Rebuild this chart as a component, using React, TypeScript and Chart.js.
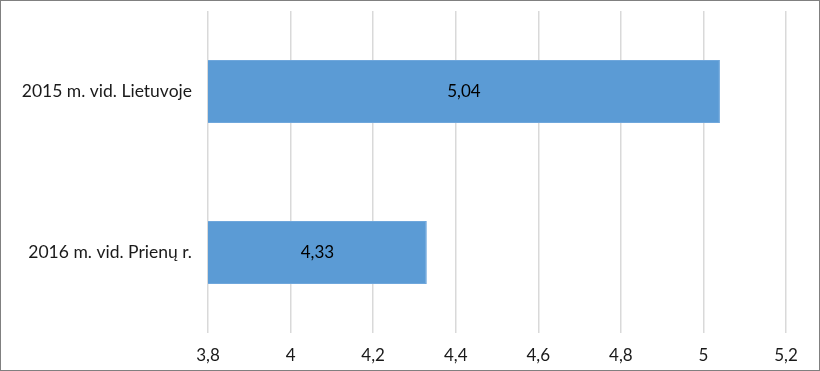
import React, { useEffect, useRef } from "react";
import { Chart, registerables } from "chart.js";

Chart.register(...registerables);

const categories = ["2015 m. vid. Lietuvoje", "2016 m. vid. Prienų r."];
const values = [5.04, 4.33];
const xMin = 3.8;
const xMax = 5.2;
const xStep = 0.2;

const FONT = "Lato, 'Open Sans', sans-serif";
const fmt = (v: number) => String(Math.round(v * 100) / 100).replace(".", ",");

const barLabels = {
  id: "barLabels",
  afterDraw(chart: any) {
    const ctx = chart.ctx;
    const xs = chart.scales.x;
    const ys = chart.scales.y;
    ctx.save();
    ctx.font = "17px " + FONT;
    ctx.fillStyle = "#000";
    ctx.textAlign = "center";
    ctx.textBaseline = "middle";
    values.forEach((v, i) => {
      const x0 = xs.getPixelForValue(xMin);
      const x1 = xs.getPixelForValue(v);
      const y = ys.getPixelForValue(i);
      ctx.fillText(fmt(v), (x0 + x1) / 2, y);
    });
    ctx.restore();
  },
};

export default function App() {
  const ref = useRef<HTMLCanvasElement | null>(null);
  useEffect(() => {
    document.body.style.margin = "0";
    const chart = new Chart(ref.current!, {
      type: "bar",
      data: {
        labels: categories,
        datasets: [
          {
            data: values,
            backgroundColor: "#5B9BD5",
            borderColor: "#6FA7DC",
            borderWidth: 1,
            categoryPercentage: 1,
            barPercentage: 0.39,
          },
        ],
      },
      options: {
        indexAxis: "y",
        animation: false,
        responsive: false,
        maintainAspectRatio: false,
        layout: { padding: { left: 0, right: 34, top: 11, bottom: 0 } },
        plugins: { legend: { display: false }, tooltip: { enabled: false } },
        scales: {
          x: {
            min: xMin,
            max: xMax,
            ticks: {
              stepSize: xStep,
              callback: (v: any) => fmt(Number(v)),
              color: "#1a1a1a",
              font: { family: FONT, size: 17 },
              padding: 12,
              maxRotation: 0,
            },
            grid: { color: "#D9D9D9", lineWidth: 1.5, drawTicks: false },
            border: { display: false },
            afterFit: (s: any) => {
              s.height = 371 - 333;
            },
          },
          y: {
            ticks: {
              color: "#1a1a1a",
              font: { family: FONT, size: 17.5 },
              padding: 16,
            },
            grid: { display: false, drawTicks: false },
            border: { display: false },
            afterFit: (s: any) => {
              s.width = 208;
              s.paddingTop = 0;
              s.paddingBottom = 0;
            },
          },
        },
      },
      plugins: [barLabels],
    });
    return () => chart.destroy();
  }, []);
  return (
    <div style={{ position: "relative", width: 820, height: 371 }}>
      <canvas ref={ref} width={820} height={371} style={{ display: "block" }} />
      <div
        style={{
          position: "absolute",
          inset: 0,
          border: "1px solid #808080",
          pointerEvents: "none",
        }}
      />
    </div>
  );
}
